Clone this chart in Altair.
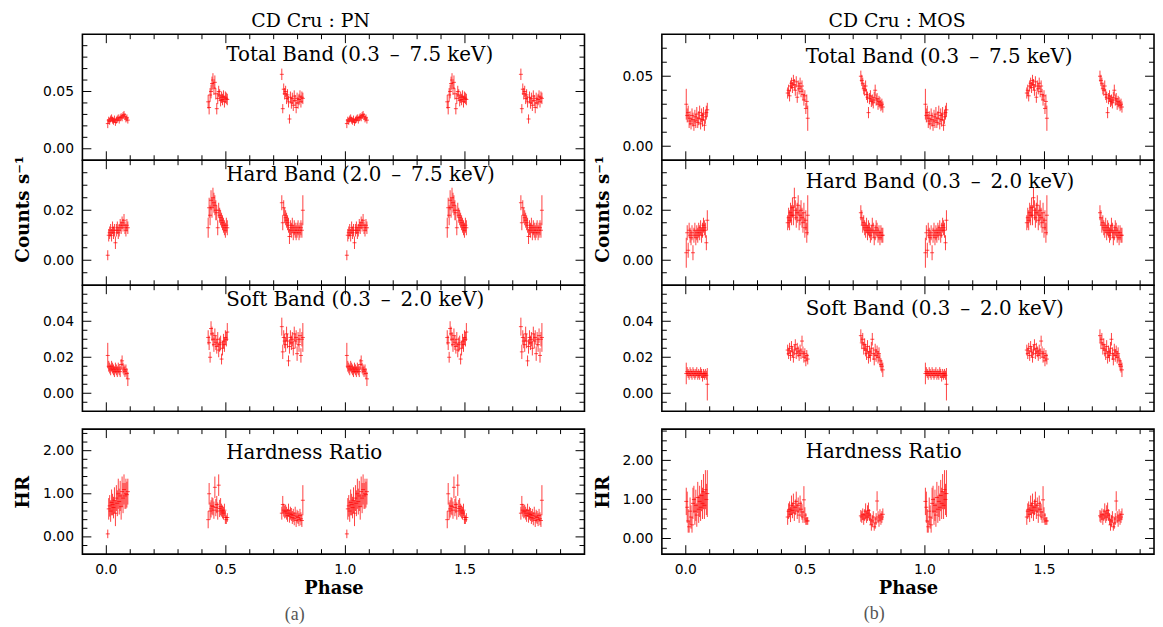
import altair as alt
import pandas as pd

# ---------------- data ----------------
# phase bins of the three observed chunks (PN)
PN_PH_A = [0.006, 0.010, 0.014, 0.018, 0.022, 0.026, 0.030, 0.034, 0.038, 0.042, 0.046,
           0.050, 0.054, 0.058, 0.062, 0.066, 0.070, 0.074, 0.078, 0.082, 0.086, 0.090]
PN_PH_B = [0.426, 0.430, 0.434, 0.438, 0.442, 0.446, 0.450, 0.454, 0.458, 0.462, 0.466,
           0.470, 0.474, 0.478, 0.482, 0.486, 0.490, 0.494, 0.498, 0.502, 0.506]
PN_PH_C = [0.734, 0.738, 0.742, 0.746, 0.750, 0.754, 0.758, 0.762, 0.766, 0.770, 0.774, 0.778,
           0.782, 0.786, 0.790, 0.794, 0.798, 0.802, 0.806, 0.810, 0.814, 0.818, 0.822]

PN_TOT_A = [0.022, 0.025, 0.024, 0.026, 0.027, 0.025, 0.024, 0.026, 0.023, 0.025, 0.026,
            0.027, 0.025, 0.027, 0.028, 0.027, 0.029, 0.030, 0.028, 0.026, 0.027, 0.025]
PN_TOT_EA = [0.004, 0.003, 0.003, 0.003, 0.003, 0.003, 0.003, 0.003, 0.003, 0.003, 0.003,
             0.003, 0.003, 0.003, 0.003, 0.003, 0.003, 0.003, 0.003, 0.003, 0.003, 0.003]
PN_TOT_B = [0.041, 0.036, 0.047, 0.050, 0.057, 0.060, 0.053, 0.058, 0.048, 0.035, 0.044,
            0.050, 0.047, 0.042, 0.045, 0.043, 0.046, 0.041, 0.045, 0.044, 0.043]
PN_TOT_EB = [0.006, 0.006, 0.006, 0.006, 0.006, 0.006, 0.006, 0.006, 0.005, 0.005, 0.005,
             0.005, 0.005, 0.005, 0.005, 0.005, 0.005, 0.005, 0.005, 0.005, 0.005]
PN_TOT_C = [0.065, 0.035, 0.052, 0.048, 0.050, 0.044, 0.047, 0.041, 0.026, 0.045, 0.040, 0.044,
            0.038, 0.046, 0.042, 0.036, 0.044, 0.040, 0.043, 0.046, 0.041, 0.045, 0.044]
PN_TOT_EC = [0.005, 0.004, 0.005, 0.005, 0.005, 0.005, 0.005, 0.005, 0.004, 0.005, 0.005, 0.005,
             0.005, 0.005, 0.005, 0.005, 0.005, 0.005, 0.005, 0.005, 0.005, 0.005, 0.005]

PN_HRD_A = [0.002, 0.010, 0.011, 0.012, 0.010, 0.013, 0.011, 0.012, 0.007, 0.012, 0.013,
            0.011, 0.012, 0.014, 0.013, 0.015, 0.014, 0.016, 0.013, 0.012, 0.014, 0.013]
PN_HRD_EA = [0.002, 0.0025, 0.0025, 0.0025, 0.0025, 0.0025, 0.0025, 0.0025, 0.0025, 0.0025, 0.0025,
             0.0025, 0.0025, 0.0025, 0.0025, 0.0025, 0.0025, 0.0025, 0.0025, 0.0025, 0.0025, 0.0025]
PN_HRD_B = [0.013, 0.021, 0.018, 0.024, 0.021, 0.025, 0.023, 0.022, 0.020, 0.019, 0.013,
            0.020, 0.018, 0.017, 0.016, 0.015, 0.014, 0.013, 0.012, 0.014, 0.013]
PN_HRD_EB = [0.004, 0.004, 0.004, 0.004, 0.004, 0.004, 0.004, 0.004, 0.004, 0.003, 0.003,
             0.003, 0.003, 0.003, 0.003, 0.003, 0.003, 0.003, 0.003, 0.003, 0.003]
PN_HRD_C = [0.023, 0.015, 0.021, 0.018, 0.017, 0.016, 0.015, 0.014, 0.0095, 0.013, 0.012, 0.014,
            0.011, 0.013, 0.012, 0.011, 0.012, 0.013, 0.011, 0.012, 0.013, 0.012, 0.020]
PN_HRD_EC = [0.003, 0.003, 0.003, 0.003, 0.003, 0.003, 0.003, 0.003, 0.003, 0.003, 0.003, 0.003,
             0.003, 0.003, 0.003, 0.003, 0.003, 0.003, 0.003, 0.003, 0.003, 0.003, 0.006]

PN_SFT_A = [0.021, 0.015, 0.014, 0.013, 0.015, 0.014, 0.013, 0.012, 0.014, 0.013, 0.012,
            0.014, 0.013, 0.012, 0.016, 0.018, 0.014, 0.013, 0.012, 0.013, 0.011, 0.008]
PN_SFT_EA = [0.007, 0.003, 0.003, 0.003, 0.003, 0.003, 0.003, 0.003, 0.003, 0.003, 0.003,
             0.003, 0.003, 0.003, 0.003, 0.003, 0.003, 0.003, 0.003, 0.003, 0.003, 0.004]
PN_SFT_B = [0.031, 0.028, 0.020, 0.036, 0.033, 0.030, 0.027, 0.032, 0.028, 0.026, 0.030,
            0.024, 0.027, 0.028, 0.019, 0.025, 0.029, 0.027, 0.031, 0.030, 0.034]
PN_SFT_EB = [0.004, 0.004, 0.003, 0.004, 0.004, 0.004, 0.004, 0.004, 0.004, 0.004, 0.004,
             0.004, 0.004, 0.004, 0.003, 0.004, 0.004, 0.004, 0.004, 0.004, 0.005]
PN_SFT_C = [0.037, 0.023, 0.031, 0.029, 0.027, 0.033, 0.029, 0.018, 0.026, 0.031, 0.028, 0.030,
            0.025, 0.033, 0.029, 0.031, 0.022, 0.030, 0.027, 0.032, 0.021, 0.030, 0.031]
PN_SFT_EC = [0.005, 0.004, 0.004, 0.004, 0.004, 0.004, 0.004, 0.003, 0.004, 0.004, 0.004, 0.004,
             0.004, 0.004, 0.004, 0.004, 0.004, 0.004, 0.004, 0.004, 0.004, 0.004, 0.008]

PN_HR_A = [0.07, 0.65, 0.72, 0.60, 0.80, 0.75, 0.68, 0.85, 0.55, 0.90, 0.78,
           1.00, 0.82, 0.95, 0.70, 1.05, 0.90, 1.10, 0.95, 1.00, 0.98, 1.05]
PN_HR_EA = [0.10, 0.25, 0.25, 0.25, 0.30, 0.25, 0.25, 0.30, 0.30, 0.30, 0.30,
            0.35, 0.30, 0.35, 0.30, 0.35, 0.35, 0.35, 0.30, 0.35, 0.30, 0.30]
PN_HR_B = [0.40, 1.00, 0.60, 0.65, 0.72, 0.70, 0.62, 1.15, 0.68, 0.75, 0.60,
           1.20, 0.66, 0.70, 0.62, 0.58, 0.55, 0.62, 0.45, 0.40, 0.45]
PN_HR_EB = [0.20, 0.25, 0.20, 0.20, 0.20, 0.20, 0.20, 0.25, 0.20, 0.20, 0.20,
            0.25, 0.20, 0.20, 0.15, 0.15, 0.15, 0.15, 0.15, 0.10, 0.10]
PN_HR_C = [0.55, 0.75, 0.62, 0.58, 0.60, 0.55, 0.50, 0.62, 0.48, 0.55, 0.52, 0.45,
           0.50, 0.42, 0.55, 0.38, 0.48, 0.45, 0.40, 0.50, 0.42, 0.38, 0.85]
PN_HR_EC = [0.15, 0.20, 0.15, 0.15, 0.15, 0.15, 0.15, 0.15, 0.15, 0.15, 0.15, 0.15,
            0.15, 0.15, 0.15, 0.15, 0.15, 0.15, 0.15, 0.15, 0.15, 0.15, 0.35]

# phase bins (MOS)
MOS_PH_A = [0.002, 0.006, 0.010, 0.014, 0.018, 0.022, 0.026, 0.030, 0.034, 0.038, 0.042, 0.046,
            0.050, 0.054, 0.058, 0.062, 0.066, 0.070, 0.074, 0.078, 0.082, 0.086, 0.090]
MOS_PH_B = [0.426, 0.430, 0.434, 0.438, 0.442, 0.446, 0.450, 0.454, 0.458, 0.462, 0.466,
            0.470, 0.474, 0.478, 0.482, 0.486, 0.490, 0.494, 0.498, 0.502, 0.506, 0.510]
MOS_PH_C = [0.732, 0.736, 0.740, 0.744, 0.748, 0.752, 0.756, 0.760, 0.764, 0.768, 0.772, 0.776,
            0.780, 0.784, 0.788, 0.792, 0.796, 0.800, 0.804, 0.808, 0.812, 0.816, 0.820, 0.824]

MOS_TOT_A = [0.030, 0.022, 0.024, 0.018, 0.020, 0.016, 0.022, 0.019, 0.015, 0.021, 0.018, 0.023,
             0.017, 0.020, 0.024, 0.016, 0.022, 0.019, 0.023, 0.015, 0.021, 0.024, 0.026]
MOS_TOT_EA = [0.011, 0.005, 0.005, 0.005, 0.005, 0.004, 0.005, 0.005, 0.004, 0.005, 0.005, 0.005,
              0.004, 0.005, 0.005, 0.004, 0.005, 0.005, 0.005, 0.004, 0.005, 0.005, 0.005]
MOS_TOT_B = [0.038, 0.040, 0.036, 0.043, 0.045, 0.042, 0.047, 0.044, 0.040, 0.046, 0.035,
             0.043, 0.041, 0.045, 0.039, 0.043, 0.037, 0.033, 0.036, 0.027, 0.032, 0.020]
MOS_TOT_EB = [0.004, 0.004, 0.004, 0.004, 0.004, 0.004, 0.004, 0.004, 0.004, 0.004, 0.004,
              0.004, 0.004, 0.004, 0.004, 0.004, 0.004, 0.004, 0.004, 0.004, 0.005, 0.009]
MOS_TOT_C = [0.050, 0.047, 0.045, 0.041, 0.040, 0.043, 0.037, 0.035, 0.024, 0.034, 0.036, 0.032,
             0.033, 0.031, 0.035, 0.040, 0.033, 0.034, 0.030, 0.032, 0.031, 0.029, 0.030, 0.028]
MOS_TOT_EC = [0.004, 0.004, 0.004, 0.004, 0.004, 0.004, 0.004, 0.004, 0.004, 0.004, 0.004, 0.004,
              0.004, 0.004, 0.004, 0.004, 0.004, 0.004, 0.004, 0.004, 0.004, 0.004, 0.004, 0.004]

MOS_HRD_A = [0.003, 0.011, 0.004, 0.012, 0.010, 0.009, 0.011, 0.003, 0.010, 0.012, 0.009, 0.011,
             0.010, 0.012, 0.011, 0.013, 0.010, 0.012, 0.014, 0.013, 0.012, 0.007, 0.016]
MOS_HRD_EA = [0.006, 0.003, 0.003, 0.003, 0.003, 0.003, 0.003, 0.003, 0.003, 0.003, 0.003, 0.003,
              0.003, 0.003, 0.003, 0.003, 0.003, 0.003, 0.003, 0.003, 0.003, 0.003, 0.004]
MOS_HRD_B = [0.015, 0.017, 0.016, 0.019, 0.018, 0.021, 0.018, 0.025, 0.020, 0.017, 0.019,
             0.022, 0.016, 0.018, 0.020, 0.017, 0.015, 0.019, 0.013, 0.016, 0.011, 0.018]
MOS_HRD_EB = [0.003, 0.004, 0.004, 0.004, 0.004, 0.004, 0.004, 0.004, 0.004, 0.004, 0.004,
              0.004, 0.004, 0.004, 0.004, 0.004, 0.004, 0.004, 0.004, 0.004, 0.004, 0.008]
MOS_HRD_C = [0.019, 0.017, 0.014, 0.015, 0.013, 0.012, 0.014, 0.011, 0.013, 0.012, 0.010, 0.011,
             0.014, 0.012, 0.009, 0.011, 0.013, 0.012, 0.010, 0.011, 0.009, 0.011, 0.010, 0.010]
MOS_HRD_EC = [0.003, 0.003, 0.003, 0.003, 0.003, 0.003, 0.003, 0.003, 0.003, 0.003, 0.003, 0.003,
              0.003, 0.003, 0.003, 0.003, 0.003, 0.003, 0.003, 0.003, 0.003, 0.003, 0.003, 0.003]

MOS_SFT_A = [0.011, 0.012, 0.011, 0.010, 0.012, 0.011, 0.010, 0.012, 0.011, 0.010, 0.011, 0.012,
             0.010, 0.011, 0.010, 0.012, 0.011, 0.009, 0.011, 0.010, 0.011, 0.010, 0.005]
MOS_SFT_EA = [0.006, 0.0025, 0.0025, 0.0025, 0.0025, 0.0025, 0.0025, 0.0025, 0.0025, 0.0025, 0.0025, 0.0025,
              0.0025, 0.0025, 0.0025, 0.0025, 0.0025, 0.0025, 0.0025, 0.0025, 0.0025, 0.0025, 0.009]
MOS_SFT_B = [0.024, 0.022, 0.025, 0.021, 0.026, 0.023, 0.020, 0.024, 0.027, 0.022, 0.025,
             0.023, 0.021, 0.024, 0.022, 0.029, 0.023, 0.020, 0.022, 0.018, 0.021, 0.019]
MOS_SFT_EB = [0.003, 0.003, 0.003, 0.003, 0.003, 0.003, 0.003, 0.003, 0.003, 0.003, 0.003,
              0.003, 0.003, 0.003, 0.003, 0.003, 0.003, 0.003, 0.003, 0.003, 0.003, 0.003]
MOS_SFT_C = [0.032, 0.028, 0.030, 0.025, 0.027, 0.024, 0.022, 0.026, 0.020, 0.023, 0.021, 0.025,
             0.030, 0.022, 0.019, 0.024, 0.021, 0.023, 0.020, 0.022, 0.018, 0.016, 0.015, 0.013]
MOS_SFT_EC = [0.0035, 0.0035, 0.0035, 0.0035, 0.0035, 0.0035, 0.0035, 0.0035, 0.0035, 0.0035, 0.0035, 0.0035,
              0.0035, 0.0035, 0.0035, 0.0035, 0.0035, 0.0035, 0.0035, 0.0035, 0.0035, 0.0035, 0.0035, 0.004]

MOS_HR_A = [0.95, 0.80, 0.45, 0.30, 0.70, 0.55, 0.35, 0.90, 1.00, 0.70, 0.85, 0.60,
            1.05, 0.75, 0.95, 0.80, 1.10, 0.90, 1.20, 0.85, 1.25, 1.00, 1.15]
MOS_HR_EA = [0.35, 0.40, 0.30, 0.15, 0.35, 0.30, 0.20, 0.40, 0.35, 0.35, 0.40, 0.30,
             0.40, 0.35, 0.40, 0.35, 0.40, 0.40, 0.45, 0.35, 0.50, 0.40, 0.60]
MOS_HR_B = [0.55, 0.70, 0.75, 0.62, 0.85, 0.72, 0.90, 0.65, 0.80, 0.95, 0.70,
            0.85, 0.60, 0.90, 0.75, 0.68, 0.55, 0.99, 0.60, 0.50, 0.45, 0.45]
MOS_HR_EB = [0.20, 0.20, 0.20, 0.20, 0.25, 0.20, 0.25, 0.20, 0.20, 0.25, 0.20,
             0.20, 0.20, 0.20, 0.20, 0.20, 0.15, 0.35, 0.20, 0.15, 0.10, 0.10]
MOS_HR_C = [0.58, 0.55, 0.62, 0.50, 0.60, 0.70, 0.55, 0.65, 0.72, 0.60, 0.50, 0.35,
            0.45, 0.55, 0.30, 0.40, 0.50, 0.96, 0.55, 0.45, 0.60, 0.50, 0.55, 0.62]
MOS_HR_EC = [0.15, 0.15, 0.15, 0.15, 0.15, 0.20, 0.15, 0.20, 0.20, 0.15, 0.15, 0.15,
             0.15, 0.15, 0.10, 0.15, 0.15, 0.25, 0.15, 0.15, 0.15, 0.15, 0.15, 0.15]

# axis tick positions and labels
X_LABELS = [0.0, 0.5, 1.0, 1.5]
X_LABEL_TEXT = ["0.0", "0.5", "1.0", "1.5"]
X_MINOR = [0.1, 0.2, 0.3, 0.4, 0.6, 0.7, 0.8, 0.9, 1.1, 1.2, 1.3, 1.4, 1.6, 1.7, 1.8, 1.9]
PN_TOT_YMAJ, PN_TOT_YMIN = [0.0, 0.05], [0.01, 0.02, 0.03, 0.04, 0.06, 0.07, 0.08, 0.09]
MOS_TOT_YMAJ, MOS_TOT_YMIN = [0.0, 0.05], [0.01, 0.02, 0.03, 0.04, 0.06, 0.07]
HRD_YMAJ, HRD_YMIN = [0.0, 0.02], [-0.005, 0.005, 0.01, 0.015, 0.025, 0.03, 0.035]
SFT_YMAJ, SFT_YMIN = [0.0, 0.02, 0.04], [-0.005, 0.005, 0.01, 0.015, 0.025, 0.03, 0.035, 0.045, 0.05, 0.055]
HR_YMAJ = [0.0, 1.0, 2.0]
PN_HR_YMIN = [-0.2, 0.2, 0.4, 0.6, 0.8, 1.2, 1.4, 1.6, 1.8, 2.2, 2.4]
MOS_HR_YMIN = [-0.25, 0.25, 0.5, 0.75, 1.25, 1.5, 1.75, 2.25, 2.5, 2.75]

# panel texts
ES = "\u2002"  # wide space, as in the original lettering
TXT_TOTAL = "Total Band (0.3" + ES + "\u2013" + ES + "7.5 keV)"
TXT_HARD_PN = "Hard Band (2.0" + ES + "\u2013" + ES + "7.5 keV)"
TXT_HARD_MOS = "Hard Band (0.3" + ES + "\u2013" + ES + "2.0 keV)"
TXT_SOFT = "Soft Band (0.3" + ES + "\u2013" + ES + "2.0 keV)"
TXT_HR = "Hardness Ratio"

RED = "#ff0000"
SERIF = "DejaVu Serif"
SANS = "DejaVu Sans"
LABEL_SIZE = 20
GAP = 18  # blank strip above the hardness-ratio panels


def make_df(phs, vals, errs):
    rows = []
    for cyc in (0, 1):  # folded light curve shown over two cycles
        for ph, vv, ee in zip(phs, vals, errs):
            for p, v, e in zip(ph, vv, ee):
                rows.append({"phase": p + cyc, "val": v, "lo": v - e, "hi": v + e})
    return pd.DataFrame(rows)


def text_layer(txt, x, y, size=LABEL_SIZE, weight="normal", color="black", font=SERIF, align="left"):
    return alt.Chart(pd.DataFrame({"t": [txt]})).mark_text(
        align=align, baseline="middle", font=font, fontSize=size, fontWeight=weight, color=color
    ).encode(x=alt.value(x), y=alt.value(y), text="t:N")


def panel(df, label, label_y, ydom, ymaj, ymin, W, H, xdom, ytitle, title_y=None,
          bottom=False, top_gap=0, extras=()):
    HC = H + top_gap
    lo_, hi_ = ydom
    # extend the y range so that the blank strip on top keeps the panel's scale
    yd = [lo_, hi_ + top_gap * (hi_ - lo_) / H]
    xs = alt.Scale(domain=xdom, nice=False, zero=False)
    ys = alt.Scale(domain=yd, nice=False, zero=False)
    ykw = dict(values=ymaj, format=".2f", ticks=False, domain=False, grid=False,
               labelPadding=9, labelFont=SANS, labelFontSize=14, labelColor="black",
               labelOverlap=False, title=ytitle, titleFont=SERIF, titleFontWeight="bold",
               titleFontSize=18.5, titleColor="black", titlePadding=10)
    if title_y is not None:
        ykw["titleY"] = title_y
    yax = alt.Axis(**ykw)
    if bottom:
        xax = alt.Axis(
            values=X_LABELS, ticks=False, domain=False, grid=False, labels=False,
            title="Phase", titleFont=SERIF, titleFontWeight="bold", titleFontSize=18,
            titleColor="black", titleY=35, titleBaseline="middle")
    else:
        xax = None

    def X(field):
        return alt.X(field, scale=xs, axis=xax)

    def Y(field):
        return alt.Y(field, scale=ys, axis=yax)

    layers = [
        alt.Chart(df).mark_rule(color=RED, strokeWidth=1, opacity=0.75).encode(
            x=X("phase:Q"), y=Y("lo:Q"), y2="hi:Q"),
        alt.Chart(df).mark_tick(color=RED, orient="horizontal", size=4, thickness=1).encode(
            x=X("phase:Q"), y=Y("val:Q")),
    ]
    tick_style = dict(color="black", strokeWidth=1)
    for xv, L in ((X_LABELS, 9), (X_MINOR, 5)):
        d = pd.DataFrame({"v": xv})
        layers.append(alt.Chart(d).mark_rule(**tick_style).encode(
            x=X("v:Q"), y=alt.value(HC), y2=alt.value(HC - L)))
        layers.append(alt.Chart(d).mark_rule(**tick_style).encode(
            x=X("v:Q"), y=alt.value(top_gap), y2=alt.value(top_gap + L)))
    for yv, L in ((ymaj, 9), (ymin, 5)):
        d = pd.DataFrame({"v": yv})
        layers.append(alt.Chart(d).mark_rule(**tick_style).encode(
            y=Y("v:Q"), x=alt.value(0), x2=alt.value(L)))
        layers.append(alt.Chart(d).mark_rule(**tick_style).encode(
            y=Y("v:Q"), x=alt.value(W), x2=alt.value(W - L)))
    if bottom:
        # phase tick labels below the bottom panel
        dl = pd.DataFrame({"v": X_LABELS, "t": X_LABEL_TEXT})
        layers.append(alt.Chart(dl).mark_text(
            font=SANS, fontSize=14, color="black", align="center", baseline="middle").encode(
            x=X("v:Q"), y=alt.value(HC + 16), text="t:N"))
    # panel frame
    layers.append(alt.Chart(pd.DataFrame({"f": [0]})).mark_rect(
        filled=False, color="black", strokeWidth=1.6).encode(
        x=alt.value(0), x2=alt.value(W), y=alt.value(top_gap), y2=alt.value(HC)))
    layers.append(text_layer(label, 145, top_gap + label_y))
    layers.extend(extras)
    return alt.layer(*layers).properties(width=W, height=HC)


NB = "\u00a0"

# ---------------- PN column ----------------
PN_PH = [PN_PH_A, PN_PH_B, PN_PH_C]
W1 = 506
XD1 = [-0.1, 2.0]
pn_tot = panel(make_df(PN_PH, [PN_TOT_A, PN_TOT_B, PN_TOT_C], [PN_TOT_EA, PN_TOT_EB, PN_TOT_EC]),
               TXT_TOTAL, 20.5, [-0.01, 0.10], PN_TOT_YMAJ, PN_TOT_YMIN,
               W1, 127, XD1, NB,
               extras=[text_layer("CD Cru : PN", 230, -13, size=19, align="center")])
pn_hrd = panel(make_df(PN_PH, [PN_HRD_A, PN_HRD_B, PN_HRD_C], [PN_HRD_EA, PN_HRD_EB, PN_HRD_EC]),
               TXT_HARD_PN, 14.5, [-0.01, 0.04], HRD_YMAJ, HRD_YMIN,
               W1, 126, XD1, "Counts s\u207b\u00b9", title_y=49)
pn_sft = panel(make_df(PN_PH, [PN_SFT_A, PN_SFT_B, PN_SFT_C], [PN_SFT_EA, PN_SFT_EB, PN_SFT_EC]),
               TXT_SOFT, 14.5, [-0.01, 0.06], SFT_YMAJ, SFT_YMIN,
               W1, 127, XD1, NB)
pn_hr = panel(make_df(PN_PH, [PN_HR_A, PN_HR_B, PN_HR_C], [PN_HR_EA, PN_HR_EB, PN_HR_EC]),
              TXT_HR, 24, [-0.4, 2.5], HR_YMAJ, PN_HR_YMIN,
              W1, 126, XD1, "HR", title_y=GAP + 63, bottom=True, top_gap=GAP,
              extras=[text_layer("(a)", 214, GAP + 187, size=18, color="#555555",
                                 font="Liberation Serif", align="center")])

# ---------------- MOS column ----------------
MOS_PH = [MOS_PH_A, MOS_PH_B, MOS_PH_C]
W2 = 496
XD2 = [-0.1, 1.958]
mos_tot = panel(make_df(MOS_PH, [MOS_TOT_A, MOS_TOT_B, MOS_TOT_C], [MOS_TOT_EA, MOS_TOT_EB, MOS_TOT_EC]),
                TXT_TOTAL, 23.5, [-0.01, 0.08], MOS_TOT_YMAJ, MOS_TOT_YMIN,
                W2, 127, XD2, NB,
                extras=[text_layer("CD Cru : MOS", 237, -13, size=19, align="center")])
mos_hrd = panel(make_df(MOS_PH, [MOS_HRD_A, MOS_HRD_B, MOS_HRD_C], [MOS_HRD_EA, MOS_HRD_EB, MOS_HRD_EC]),
                TXT_HARD_MOS, 21.5, [-0.01, 0.04], HRD_YMAJ, HRD_YMIN,
                W2, 126, XD2, "Counts s\u207b\u00b9", title_y=49)
mos_sft = panel(make_df(MOS_PH, [MOS_SFT_A, MOS_SFT_B, MOS_SFT_C], [MOS_SFT_EA, MOS_SFT_EB, MOS_SFT_EC]),
                TXT_SOFT, 24, [-0.01, 0.06], SFT_YMAJ, SFT_YMIN,
                W2, 127, XD2, NB)
mos_hr = panel(make_df(MOS_PH, [MOS_HR_A, MOS_HR_B, MOS_HR_C], [MOS_HR_EA, MOS_HR_EB, MOS_HR_EC]),
               TXT_HR, 23, [-0.4, 2.8], HR_YMAJ, MOS_HR_YMIN,
               W2, 126, XD2, "HR", title_y=GAP + 63, bottom=True, top_gap=GAP,
               extras=[text_layer("(b)", 214, GAP + 186, size=18, color="#555555",
                                  font="Liberation Serif", align="center")])

chart = alt.concat(
    pn_tot, mos_tot, pn_hrd, mos_hrd, pn_sft, mos_sft, pn_hr, mos_hr,
    columns=2, spacing={"row": 0, "column": 78}, bounds="flush",
).properties(
    padding={"left": 5, "top": 2, "right": 0, "bottom": 0}
).configure_view(strokeWidth=0)

chart.save("out.html", embed_options={"renderer": "svg", "actions": False})
